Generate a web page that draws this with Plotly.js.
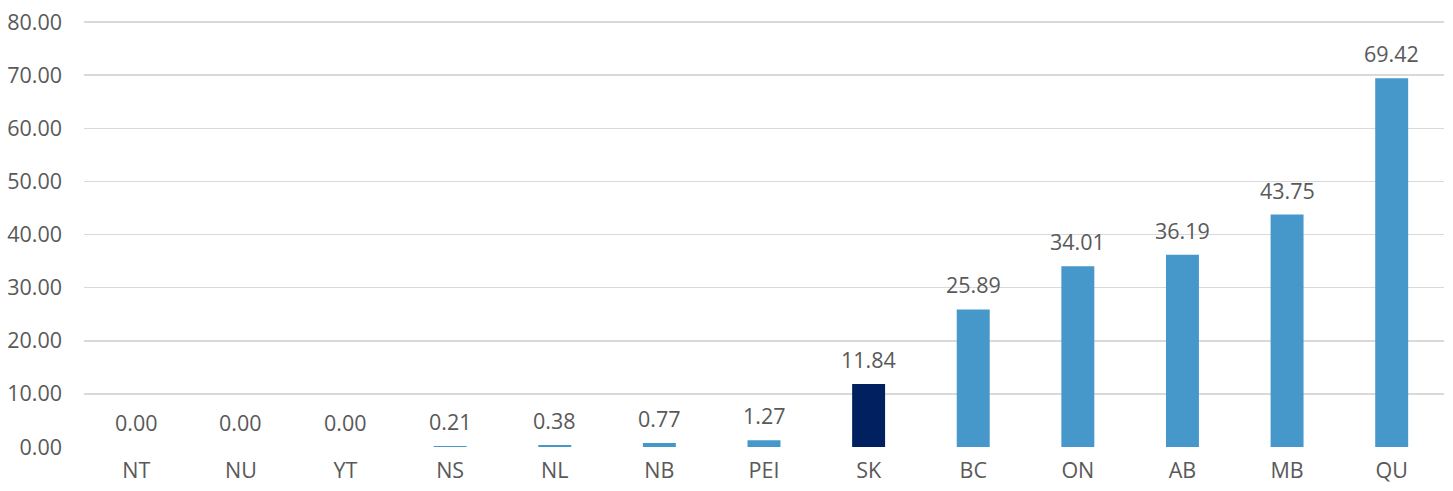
<!DOCTYPE html>
<html><head><meta charset="utf-8">
<script src="https://cdn.plot.ly/plotly-3.0.1.min.js"></script>
<style>html,body{margin:0;padding:0;background:#fff;}#chart{width:1453px;height:491px;}</style>
</head><body><div id="chart"></div>
<script>
const categories = ["NT","NU","YT","NS","NL","NB","PEI","SK","BC","ON","AB","MB","QU"];
const values = [0.00,0.00,0.00,0.21,0.38,0.77,1.27,11.84,25.89,34.01,36.19,43.75,69.42];
const highlight = "SK";
const yTicks = [0,10,20,30,40,50,60,70,80];

const colors = categories.map(c => c === highlight ? "#002060" : "#4698CB");
const font = {family: "Open Sans, sans-serif", size: 21.5, color: "#595959"};

const annotations = categories.map((c, i) => ({
  x: c, y: values[i], xref: "x", yref: "y",
  text: values[i].toFixed(2), showarrow: false,
  yanchor: "bottom", yshift: 8, font: font
}));

Plotly.newPlot("chart", [{
  type: "bar", x: categories, y: values,
  marker: {color: colors}, hoverinfo: "none"
}], {
  width: 1453, height: 491,
  margin: {l: 84, r: 9, t: 21, b: 44},
  bargap: 0.685,
  paper_bgcolor: "#fff", plot_bgcolor: "#fff",
  showlegend: false,
  font: font,
  annotations: annotations,
  xaxis: {tickfont: font, showgrid: false, zeroline: false, showline: false, ticks: "", ticklabelstandoff: 8},
  yaxis: {range: [0, 80.2], tickvals: yTicks, ticktext: yTicks.map(v => v.toFixed(2)),
    tickfont: font, gridcolor: "#d9d9d9", gridwidth: 1.5, zeroline: false, showline: false, ticks: "", ticklabelstandoff: 21}
}, {staticPlot: true});
</script></body></html>
